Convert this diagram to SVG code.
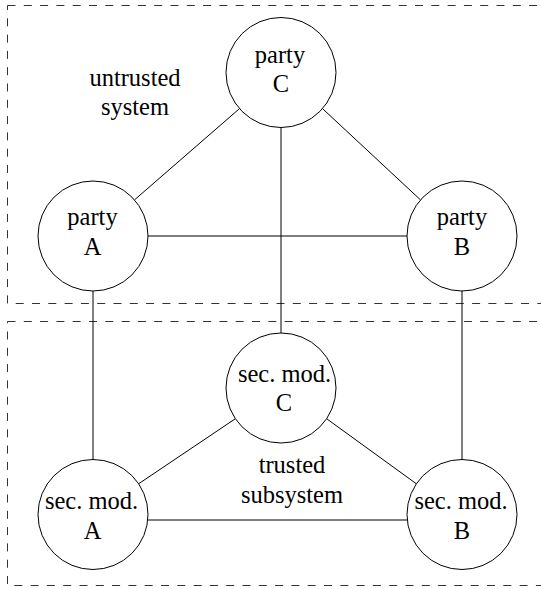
<svg xmlns="http://www.w3.org/2000/svg" width="541" height="589" viewBox="0 0 541 589">
<style>
.bg{fill:#fff}
.zone{fill:none;stroke:#333;stroke-width:1;stroke-dasharray:8 8.3}
.node{fill:#fff;stroke:#000;stroke-width:1}
.edge{stroke:#000;stroke-width:1;fill:none}
text{font-family:"Liberation Serif","Times New Roman",serif;font-size:24.5px;fill:#000;text-anchor:middle}
</style>
<rect class="bg" x="0" y="0" width="541" height="589"/>
<g id="zones">
<rect class="zone" x="7.5" y="5.5" width="560" height="298"/>
<rect class="zone" x="7.5" y="321.5" width="560" height="264"/>
<text x="135" y="86">untrusted</text>
<text x="135" y="115">system</text>
<text x="292" y="473">trusted</text>
<text x="292" y="503">subsystem</text>
</g>
<g id="connectors">
<line class="edge" x1="239.5" y1="108.6" x2="134.5" y2="199.9"/>
<line class="edge" x1="322.5" y1="108.6" x2="420.5" y2="199.9"/>
<line class="edge" x1="281" y1="127.5" x2="281" y2="333"/>
<line class="edge" x1="148" y1="236" x2="407" y2="236"/>
<line class="edge" x1="93" y1="291" x2="93" y2="459.5"/>
<line class="edge" x1="462" y1="291" x2="462" y2="459.5"/>
<line class="edge" x1="235.4" y1="418.7" x2="138.6" y2="483.8"/>
<line class="edge" x1="326.6" y1="418.7" x2="416.4" y2="483.8"/>
<line class="edge" x1="147.7" y1="520" x2="407.3" y2="520"/>
</g>
<g id="partyC">
<circle class="node" cx="281" cy="72.5" r="55"/>
<text x="280" y="62.5">party</text>
<text x="281" y="91.5">C</text>
</g>
<g id="partyA">
<circle class="node" cx="93" cy="236" r="55"/>
<text x="92.5" y="225">party</text>
<text x="92.5" y="254.5">A</text>
</g>
<g id="partyB">
<circle class="node" cx="462" cy="236" r="55"/>
<text x="462" y="225">party</text>
<text x="462" y="254.5">B</text>
</g>
<g id="secC">
<circle class="node" cx="281" cy="388" r="55"/>
<text x="284.5" y="381.5">sec. mod.</text>
<text x="284" y="410.5">C</text>
</g>
<g id="secA">
<circle class="node" cx="93" cy="514.5" r="55"/>
<text x="91.5" y="509">sec. mod.</text>
<text x="92.5" y="538.5">A</text>
</g>
<g id="secB">
<circle class="node" cx="462" cy="514.5" r="55"/>
<text x="461" y="509">sec. mod.</text>
<text x="462" y="538.5">B</text>
</g>
</svg>
